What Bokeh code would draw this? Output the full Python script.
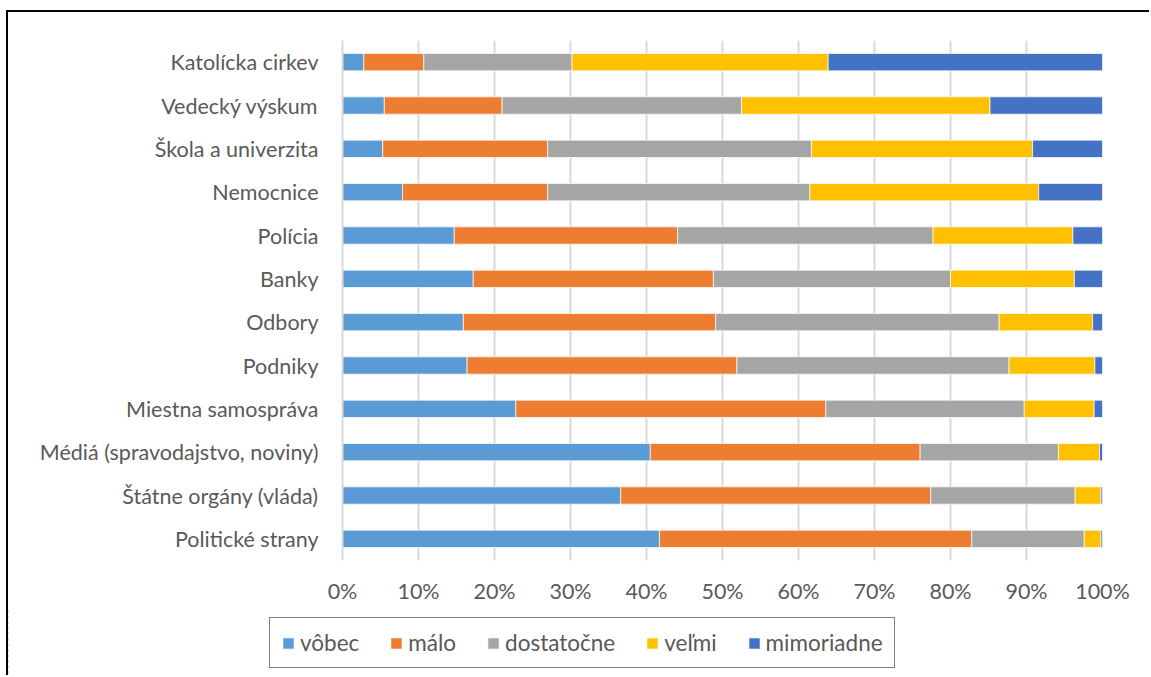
from bokeh.plotting import figure
from bokeh.models import (ColumnDataSource, FactorRange, Range1d, Legend, LegendItem,
                          NumeralTickFormatter, FixedTicker)
from bokeh.embed import file_html
from bokeh.resources import INLINE

# Categories, top to bottom as shown
categories = [
    "Katolícka cirkev",
    "Vedecký výskum",
    "Škola a univerzita",
    "Nemocnice",
    "Polícia",
    "Banky",
    "Odbory",
    "Podniky",
    "Miestna samospráva",
    "Médiá (spravodajstvo, noviny)",
    "Štátne orgány (vláda)",
    "Politické strany",
]
series_names = ["vôbec", "málo", "dostatočne", "veľmi", "mimoriadne"]

vobec      = [2.8, 5.5, 5.3, 7.9, 14.7, 17.2, 15.9, 16.4, 22.8, 40.5, 36.6, 41.7]
malo       = [7.9, 15.5, 21.7, 19.1, 29.4, 31.6, 33.2, 35.5, 40.8, 35.5, 40.8, 41.1]
dostatocne = [19.5, 31.5, 34.7, 34.5, 33.6, 31.2, 37.3, 35.8, 26.1, 18.2, 19.0, 14.8]
velmi      = [33.7, 32.7, 29.1, 30.1, 18.4, 16.3, 12.3, 11.3, 9.2, 5.4, 3.4, 2.2]
mimoriadne = [36.1, 14.8, 9.2, 8.4, 3.9, 3.7, 1.3, 1.0, 1.1, 0.4, 0.2, 0.2]

colors = ["#5B9BD5", "#ED7D31", "#A5A5A5", "#FFC000", "#4472C4"]
x_ticks = [0, 0.1, 0.2, 0.3, 0.4, 0.5, 0.6, 0.7, 0.8, 0.9, 1.0]

series = [vobec, malo, dostatocne, velmi, mimoriadne]
totals = [sum(s[i] for s in series) for i in range(len(categories))]
data = {"cat": categories}
for name, vals in zip(series_names, series):
    data[name] = [v / t for v, t in zip(vals, totals)]
src = ColumnDataSource(data)

FONT = "Lato"
TXT = "#595959"
FS = "21.5px"

# ---------------- main chart ----------------
p = figure(width=1143, height=598,
           y_range=FactorRange(factors=list(reversed(categories))),
           x_range=Range1d(0, 1),
           output_backend="svg", toolbar_location=None,
           min_border_left=334, min_border_right=49,
           min_border_top=28, min_border_bottom=50)
p.styles = {"border-top": "2px solid black", "border-left": "2px solid black",
            "margin-top": "10px", "margin-left": "6px"}
p.outline_line_color = None
p.background_fill_color = "white"
p.border_fill_color = "white"

renderers = p.hbar_stack(series_names, y="cat", height=0.4, color=colors,
                         source=src, line_color="white", line_width=0.7)

p.ygrid.grid_line_color = None
p.xgrid.ticker = FixedTicker(ticks=x_ticks)
p.xgrid.grid_line_color = "#D9D9D9"
p.xgrid.grid_line_width = 2
p.xgrid.level = "underlay"

p.xaxis.ticker = FixedTicker(ticks=x_ticks)
p.xaxis.formatter = NumeralTickFormatter(format="0%")
p.xaxis.axis_line_color = None
p.xaxis.major_tick_line_color = None
p.xaxis.minor_tick_line_color = None
p.xaxis.major_tick_out = 0
p.xaxis.major_tick_in = 0
p.xaxis.major_label_text_font = FONT
p.xaxis.major_label_text_font_size = FS
p.xaxis.major_label_text_color = TXT
p.xaxis.major_label_standoff = 17

p.yaxis.axis_line_color = "#D9D9D9"
p.yaxis.axis_line_width = 2
p.yaxis.major_tick_line_color = None
p.yaxis.minor_tick_line_color = None
p.yaxis.major_tick_out = 0
p.yaxis.major_tick_in = 0
p.yaxis.major_label_text_font = FONT
p.yaxis.major_label_text_font_size = FS
p.yaxis.major_label_text_color = TXT
p.yaxis.major_label_standoff = 24

# ---------------- legend strip (separate root, so frames are not aligned) ----------------
lf = figure(width=1143, height=67,
            y_range=FactorRange(factors=list(reversed(categories))),
            x_range=Range1d(5, 6),
            output_backend="svg", toolbar_location=None,
            min_border_left=0, min_border_right=0,
            min_border_top=0, min_border_bottom=0)
lf.styles = {"border-left": "2px solid black", "margin-left": "6px"}
lf.axis.visible = False
lf.grid.visible = False
lf.outline_line_color = None
lf.background_fill_color = "white"
lf.border_fill_color = "white"
leg_renderers = lf.hbar_stack(series_names, y="cat", height=0.4, color=colors,
                              source=src, line_color="white", line_width=0.7)

items = [LegendItem(label=n, renderers=[r]) for n, r in zip(series_names, leg_renderers)]
legend = Legend(items=items, orientation="horizontal", location=(261, 7),
                label_text_font=FONT, label_text_font_size="22.5px",
                label_text_color=TXT, glyph_width=14, glyph_height=14,
                label_standoff=5, spacing=30, padding=11, margin=0,
                border_line_color="black", border_line_width=1.5,
                background_fill_alpha=1)
lf.add_layout(legend, "center")

open("out.html", "w").write(file_html([p, lf], INLINE))
